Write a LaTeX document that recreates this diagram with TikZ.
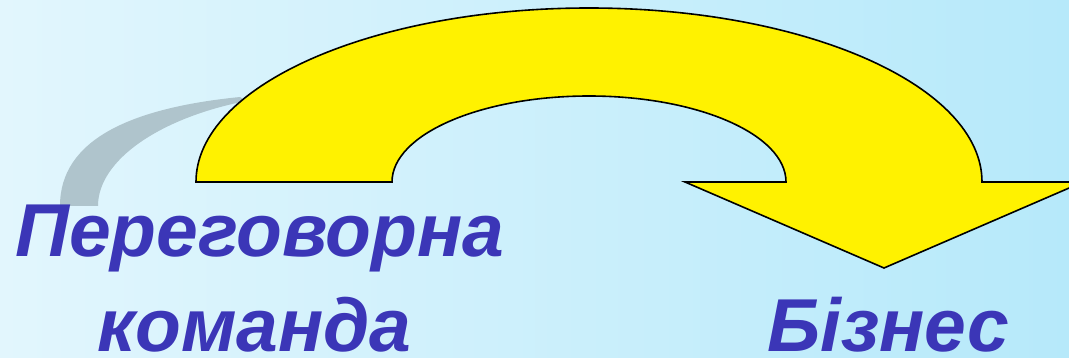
\documentclass[tikz,border=0pt]{standalone}
\usepackage{fontspec}
\setmainfont{Liberation Sans}
\usepackage{tikz}
\usetikzlibrary{positioning}
\definecolor{bgleft}{RGB}{226,246,253}
\definecolor{bgright}{RGB}{182,233,250}
\definecolor{shadowgrey}{RGB}{175,196,204}
\definecolor{labelblue}{RGB}{59,54,183}
\begin{document}
\begin{tikzpicture}[x=1pt, y=-1pt,
      label/.style={anchor=base west, inner sep=0pt, text=labelblue,
                    font=\fontsize{75}{80}\selectfont\bfseries\itshape},
      shadowarc/.style={fill=shadowgrey},
      bigarrow/.style={draw=black, line width=1.6pt, fill=yellow, line join=miter}
    ]
    \clip (0,0) rectangle (1069,358);
    \shade[left color=bgleft, right color=bgright] (0,0) rectangle (1069,358);
    \fill[shadowarc] (60,206) .. controls (60,140) and (130,108) .. (240,97)
      -- (246,101) .. controls (160,118) and (98,160) .. (98,206) -- cycle;
    \draw[bigarrow] (196,182) arc[start angle=180, end angle=360, x radius=393, y radius=174]
      -- (1083,182) -- (884,268) -- (685,182) -- (786,182)
      arc[start angle=360, end angle=180, x radius=197, y radius=86] -- cycle;
    \node[label] (team) at (15,257) {Переговорна};
    \node[label] (team2) at (97,352) {команда};
    \node[label] (biz) at (767,352) {Бізнес};
  \end{tikzpicture}
\end{document}
